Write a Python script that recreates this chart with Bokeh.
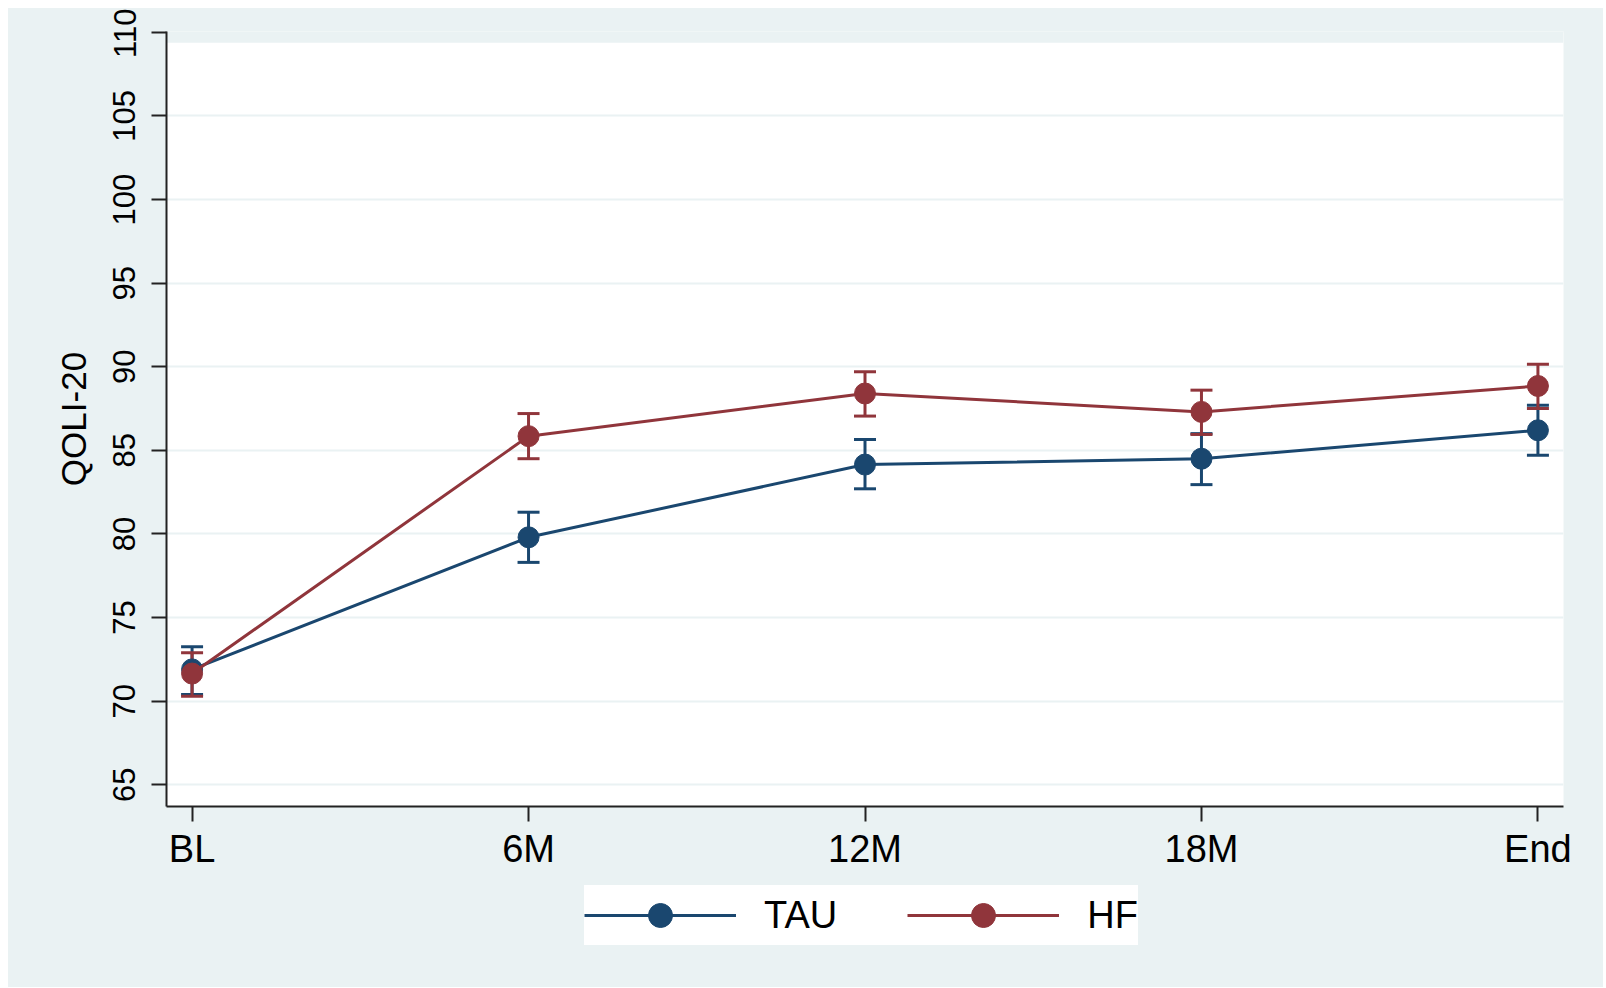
from bokeh.plotting import figure
from bokeh.layouts import column, row
from bokeh.models import (Range1d, FixedTicker, Whisker, TeeHead, ColumnDataSource,
                          Legend, LegendItem, BoxAnnotation, Spacer)
from bokeh.embed import file_html
from bokeh.resources import INLINE

# ---- data ----
categories = ["BL", "6M", "12M", "18M", "End"]
x_pos = [0, 1, 2, 3, 4]
tau_mean = [71.9, 79.8, 84.15, 84.5, 86.2]
tau_lo = [70.4, 78.3, 82.7, 82.95, 84.7]
tau_hi = [73.25, 81.3, 85.65, 86.0, 87.7]
hf_mean = [71.65, 85.85, 88.4, 87.3, 88.85]
hf_lo = [70.3, 84.5, 87.05, 85.95, 87.5]
hf_hi = [72.9, 87.2, 89.7, 88.6, 90.15]
y_ticks = [65, 70, 75, 80, 85, 90, 95, 100, 105, 110]
series_names = ["TAU", "HF"]

# ---- style ----
FONT = "Liberation Sans"
BG = "#eaf2f3"
TAU_C = "#1a476f"
HF_C = "#90353b"
PLOT_TOP_VALUE = 109.37   # where the white plot region ends (above is background)
W = 1595
BORDER_L, BORDER_R = 158, 40

p = figure(width=W, height=872, output_backend="svg", toolbar_location=None,
           x_range=Range1d(-0.076, 4.076), y_range=Range1d(63.7, 110.05),
           min_border_left=BORDER_L, min_border_right=BORDER_R, min_border_top=23,
           min_border_bottom=74)
p.background_fill_color = "white"
p.border_fill_color = BG
p.outline_line_color = None

# background strip above the plot region (tick 110 lies outside it)
p.add_layout(BoxAnnotation(bottom=PLOT_TOP_VALUE, fill_color=BG, fill_alpha=1.0,
                           line_color=None, level="underlay"))

p.xgrid.visible = False
p.ygrid.grid_line_color = BG
p.ygrid.grid_line_width = 2

# axes
p.xaxis.ticker = FixedTicker(ticks=x_pos)
p.xaxis.major_label_overrides = {x: c for x, c in zip(x_pos, categories)}
p.yaxis.ticker = FixedTicker(ticks=y_ticks)
p.yaxis.major_label_orientation = "vertical"
p.yaxis.axis_label = "QOLI-20"
for ax in (p.xaxis[0], p.yaxis[0]):
    ax.axis_line_color = "#222222"
    ax.axis_line_width = 2
    ax.major_tick_line_color = "#222222"
    ax.major_tick_line_width = 2
    ax.major_tick_out = 15
    ax.major_tick_in = 0
    ax.minor_tick_line_color = None
    ax.major_label_text_font = FONT
    ax.major_label_text_color = "black"
    ax.axis_label_text_font = FONT
    ax.axis_label_text_font_style = "normal"
    ax.axis_label_text_color = "black"
p.xaxis.major_label_text_font_size = "38px"
p.xaxis.major_label_standoff = 6
p.yaxis.major_label_text_font_size = "31px"
p.yaxis.major_label_standoff = 16
p.yaxis.axis_label_text_font_size = "35px"
p.yaxis.axis_label_standoff = 18

src_tau = ColumnDataSource(dict(x=x_pos, y=tau_mean, lo=tau_lo, hi=tau_hi))
src_hf = ColumnDataSource(dict(x=x_pos, y=hf_mean, lo=hf_lo, hi=hf_hi))
sources = (src_tau, src_hf)
colors = (TAU_C, HF_C)

for src, col in zip(sources, colors):
    w = Whisker(source=src, base="x", lower="lo", upper="hi", line_color=col,
                line_width=3, level="underlay",
                upper_head=TeeHead(size=22, line_color=col, line_width=3),
                lower_head=TeeHead(size=22, line_color=col, line_width=3))
    p.add_layout(w)
    p.line("x", "y", source=src, line_color=col, line_width=3)
    p.scatter("x", "y", source=src, size=21, fill_color=col, line_color=col)

# ---- legend strip below the chart (same frame alignment as the chart) ----
lg = figure(width=W, height=107, output_backend="svg", toolbar_location=None,
            x_range=Range1d(-0.076, 4.076), y_range=Range1d(0, 1),
            min_border_left=BORDER_L, min_border_right=BORDER_R, min_border_top=0,
            min_border_bottom=0)
lg.axis.visible = False
lg.grid.visible = False
lg.background_fill_alpha = 0
lg.border_fill_alpha = 0
lg.outline_line_color = None

items = []
for name, src, col in zip(series_names, sources, colors):
    # same series, drawn out of this strip's view: only their legend glyphs show
    ln = lg.line("x", "y", source=src, line_color=col, line_width=3)
    sc = lg.scatter("x", "y", source=src, size=21, fill_color=col, line_color=col)
    items.append(LegendItem(label=name, renderers=[ln, sc]))

legend = Legend(items=items, orientation="horizontal", location=(418, 42),
                background_fill_color="white", background_fill_alpha=1.0,
                border_line_color=None, padding=15, margin=0, spacing=70,
                glyph_width=152, glyph_height=60, label_standoff=28,
                label_text_font=FONT, label_text_font_size="38px",
                label_text_color="black", label_height=60)
lg.add_layout(legend)

chart = column(p, lg, spacing=0, styles={"background-color": BG})
layout = column(Spacer(height=8), row(Spacer(width=8), chart), spacing=0)
open("out.html", "w").write(file_html(layout, INLINE))
